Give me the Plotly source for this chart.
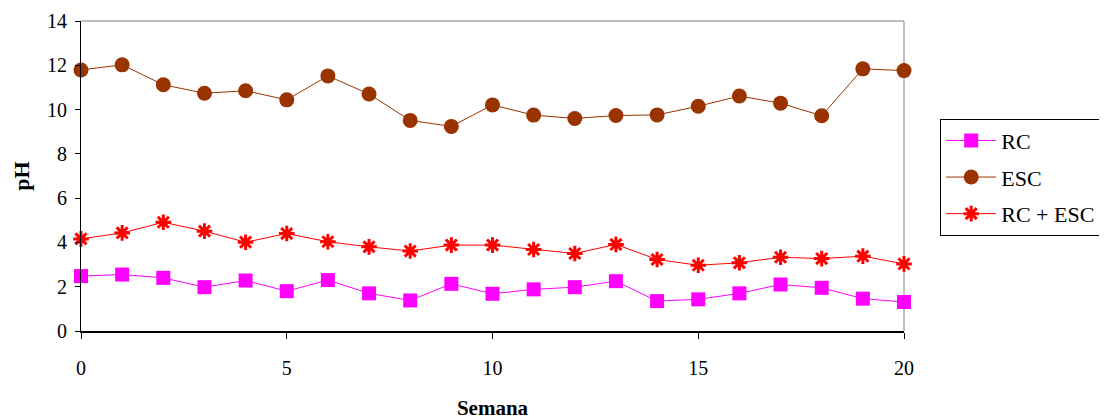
import plotly.graph_objects as go

semana = list(range(21))
rc = [2.48, 2.55, 2.40, 1.98, 2.28, 1.80, 2.30, 1.70, 1.38, 2.13, 1.68,
      1.88, 1.98, 2.25, 1.35, 1.43, 1.70, 2.10, 1.95, 1.46, 1.31]
esc = [11.79, 12.02, 11.12, 10.74, 10.85, 10.44, 11.52, 10.70, 9.51, 9.24, 10.21,
       9.75, 9.60, 9.73, 9.76, 10.15, 10.61, 10.29, 9.72, 11.84, 11.76]
rc_esc = [4.16, 4.43, 4.91, 4.51, 4.01, 4.40, 4.03, 3.80, 3.61, 3.88, 3.88,
          3.68, 3.50, 3.91, 3.23, 2.97, 3.08, 3.33, 3.27, 3.38, 3.03]

FONT = '"Liberation Serif", "Times New Roman", Times, serif'

fig = go.Figure()
fig.add_trace(go.Scatter(x=semana, y=rc, name="RC", mode="lines+markers",
                         legendgroup="a",
                         line=dict(color="#FF00FF", width=1),
                         marker=dict(symbol="square", size=14, color="#FF00FF"),
                         cliponaxis=False))
fig.add_trace(go.Scatter(x=semana, y=esc, name="ESC", mode="lines+markers",
                         legendgroup="b",
                         line=dict(color="#993300", width=1),
                         marker=dict(symbol="circle", size=15, color="#993300"),
                         cliponaxis=False))
fig.add_trace(go.Scatter(x=semana, y=rc_esc, name="RC + ESC", mode="lines+markers",
                         legendgroup="c",
                         line=dict(color="#FF0000", width=1),
                         marker=dict(symbol="asterisk-open", size=13,
                                     color="#FF0000", line=dict(color="#FF0000", width=3)),
                         cliponaxis=False))

fig.update_layout(
    width=1107, height=418,
    margin=dict(l=73, r=211, t=13, b=95, autoexpand=False),
    paper_bgcolor="white", plot_bgcolor="white",
    font=dict(family=FONT, size=20, color="black"),
    showlegend=True,
    legend=dict(x=1.044, y=0.685, xanchor="left", yanchor="top",
                bordercolor="black", borderwidth=1, bgcolor="white",
                font=dict(family=FONT, size=22), tracegroupgap=5,
                itemwidth=50),
    xaxis=dict(range=[0, 20], tickmode="array", tickvals=[0, 5, 10, 15, 20],
               showgrid=False, zeroline=False, showline=True, linecolor="black",
               linewidth=2, ticks="outside", ticklen=6, tickcolor="black",
               ticklabelstandoff=12, automargin=False,
               tickfont=dict(family=FONT, size=20),
               title=dict(text="<b>Semana</b>", font=dict(family=FONT, size=21),
                          standoff=22)),
    yaxis=dict(range=[0, 14], tickmode="array", tickvals=list(range(0, 15, 2)),
               showgrid=False, zeroline=False, showline=True, linecolor="black",
               linewidth=1, ticks="outside", ticklen=5, tickcolor="black",
               ticklabelstandoff=4, automargin=False,
               tickfont=dict(family=FONT, size=20),
               title=dict(text="<b>pH</b>", font=dict(family=FONT, size=22),
                          standoff=11)),
    shapes=[
        dict(type="line", xref="paper", yref="paper", x0=0, x1=1, y0=1, y1=1,
             line=dict(color="#808080", width=1), layer="below"),
        dict(type="line", xref="paper", yref="paper", x0=1, x1=1, y0=0, y1=1,
             line=dict(color="#808080", width=1), layer="below"),
    ],
)

fig.write_html("out.html")
